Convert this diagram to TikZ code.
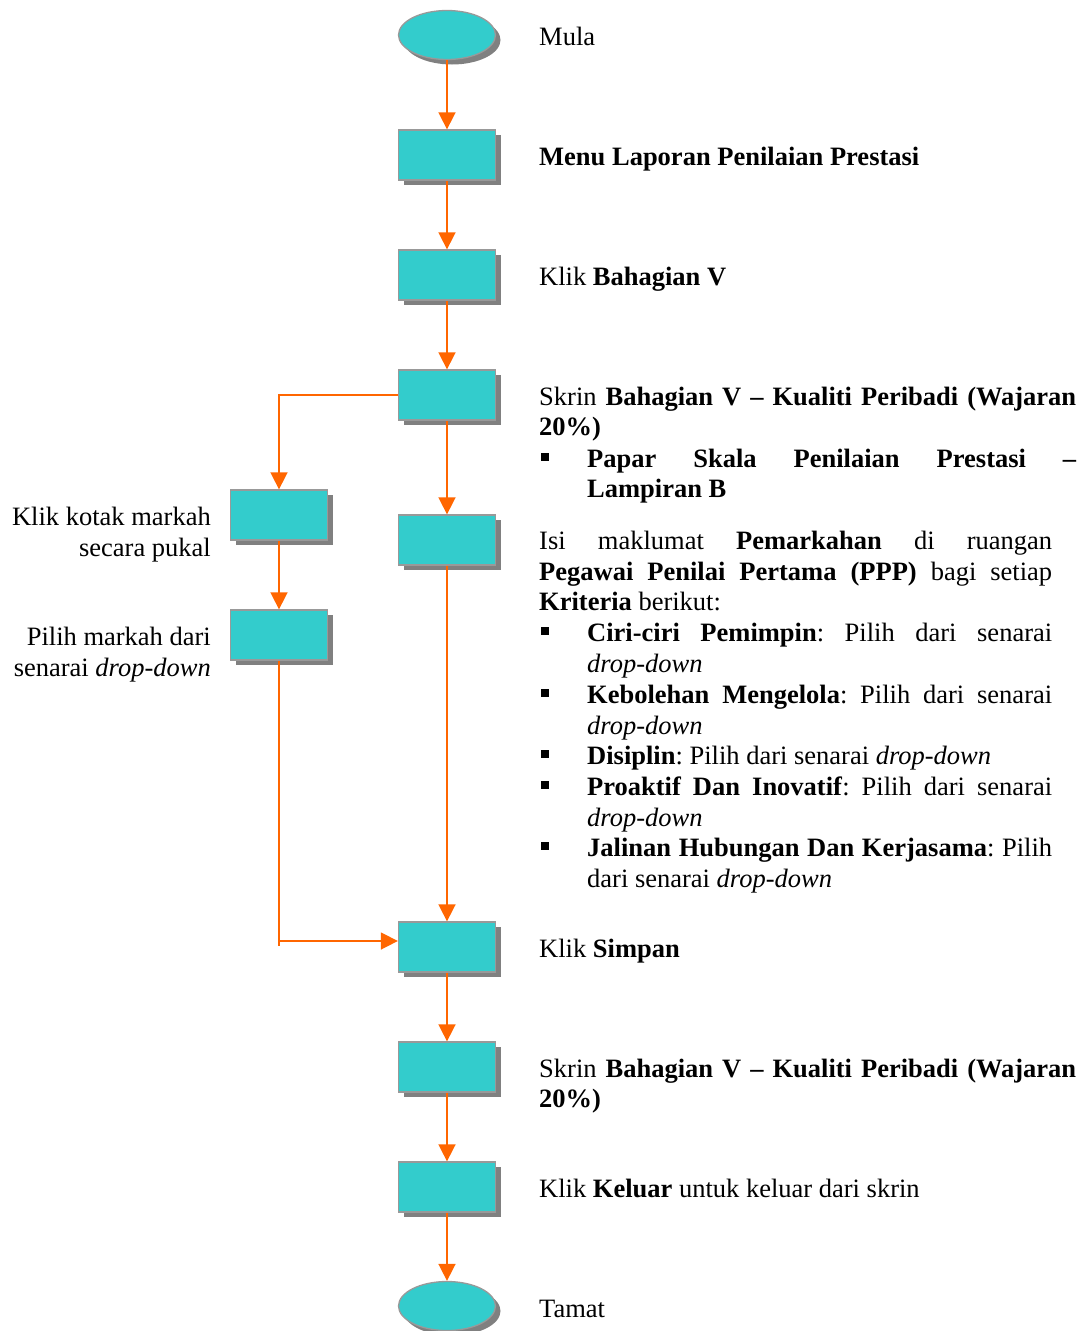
\documentclass[tikz,border=0pt]{standalone}
\usepackage{fontspec}
\setmainfont{Liberation Serif}
\usetikzlibrary{arrows.meta,shadows,shapes.geometric}
\definecolor{teal1}{HTML}{33CCCC}
\definecolor{boxborder}{HTML}{999999}
\definecolor{shadowgray}{HTML}{808080}
\definecolor{orange1}{HTML}{FF6600}
\newcommand{\jl}[2]{\makebox[#1pt][s]{#2}}
\frenchspacing
\begin{document}
\begin{tikzpicture}[x=1pt,y=-1pt,
  shape base/.style={draw=boxborder, line width=1.3pt, fill=teal1, minimum width=97pt, minimum height=50pt, inner sep=0pt,
     drop shadow={shadow xshift=5pt, shadow yshift=-5pt, fill=shadowgray, opacity=1, draw=none}},
  stepbox/.style={shape base, rectangle},
  termbox/.style={shape base, ellipse, minimum height=49pt},
  conn/.style={draw=orange1, line width=1.6pt},
  arr/.style={conn, -{Triangle[length=17pt,width=17pt]}},
  txt/.style={anchor=base west, inner sep=0pt, font=\fontsize{26.5pt}{30.5pt}\selectfont\frenchspacing},
  ltxt/.style={anchor=base east, inner sep=0pt, font=\fontsize{26.5pt}{30.5pt}\selectfont\frenchspacing},
  bul/.style={rectangle, fill=black, inner sep=0pt, minimum size=7.5pt}
]
\useasboundingbox (0,0) rectangle (1089,1331);
% shapes
\node[termbox] (mula) at (447,35) {};
\node[stepbox] (menu) at (447,155) {};
\node[stepbox] (klikb) at (447,275) {};
\node[stepbox] (skrin1) at (447,395) {};
\node[stepbox] (isi) at (447,540) {};
\node[stepbox] (kl1) at (279,515) {};
\node[stepbox] (kl2) at (279,635) {};
\node[stepbox] (simpan) at (447,947) {};
\node[stepbox] (skrin2) at (447,1067) {};
\node[stepbox] (keluar) at (447,1187) {};
\node[termbox] (tamat) at (447,1306) {};
% connectors
\draw[arr] (mula.south) -- (menu.north);
\draw[arr] (menu.south) -- (klikb.north);
\draw[arr] (klikb.south) -- (skrin1.north);
\draw[arr] (skrin1.south) -- (isi.north);
\draw[arr] (skrin1.west) -| (kl1.north);
\draw[arr] (kl1.south) -- (kl2.north);
\coordinate (lend) at (279,946);
\draw[conn] (kl2.south) -- (lend);
\coordinate (lcorner) at (279,941);
\draw[arr] (lcorner) -- (lcorner -| simpan.west);
\draw[arr] (isi.south) -- (simpan.north);
\draw[arr] (simpan.south) -- (skrin2.north);
\draw[arr] (skrin2.south) -- (keluar.north);
\draw[arr] (keluar.south) -- (tamat.north);
% right texts
\node[txt] (t1) at (539,45) {Mula};
\node[txt] (t2) at (539,165) {\textbf{Menu Laporan Penilaian Prestasi}};
\node[txt] (t3) at (539,285) {Klik \textbf{Bahagian V}};
\node[txt] (t4) at (539,405) {\jl{537}{Skrin \textbf{Bahagian V – Kualiti Peribadi (Wajaran}}};
\node[txt] (t5) at (539,435) {\textbf{20\%)}};
\node[bul] (b1) at (545,457) {};
\node[txt] (t6) at (587,467) {\textbf{\jl{489}{Papar Skala Penilaian Prestasi –}}};
\node[txt] (t7) at (587,497) {\textbf{Lampiran B}};
\node[txt] (t8) at (539,549) {\jl{513}{Isi maklumat \textbf{Pemarkahan} di ruangan}};
\node[txt] (t9) at (539,580) {\jl{513}{\textbf{Pegawai Penilai Pertama (PPP)} bagi setiap}};
\node[txt] (t10) at (539,610) {\textbf{Kriteria} berikut:};
\node[bul] (b2) at (545,631) {};
\node[txt] (t11) at (587,641) {\jl{465}{\textbf{Ciri-ciri Pemimpin}: Pilih dari senarai}};
\node[txt] (t12) at (587,672) {\textit{drop-down}};
\node[bul] (b3) at (545,693) {};
\node[txt] (t13) at (587,703) {\jl{465}{\textbf{Kebolehan Mengelola}: Pilih dari senarai}};
\node[txt] (t14) at (587,734) {\textit{drop-down}};
\node[bul] (b4) at (545,754) {};
\node[txt] (t15) at (587,764) {\textbf{Disiplin}: Pilih dari senarai \textit{drop-down}};
\node[bul] (b5) at (545,785) {};
\node[txt] (t16) at (587,795) {\jl{465}{\textbf{Proaktif Dan Inovatif}: Pilih dari senarai}};
\node[txt] (t17) at (587,826) {\textit{drop-down}};
\node[bul] (b6) at (545,846) {};
\node[txt] (t18) at (587,856) {\jl{465}{\textbf{Jalinan Hubungan Dan Kerjasama}: Pilih}};
\node[txt] (t19) at (587,887) {dari senarai \textit{drop-down}};
\node[txt] (t20) at (539,957) {Klik \textbf{Simpan}};
\node[txt] (t21) at (539,1077) {\jl{537}{Skrin \textbf{Bahagian V – Kualiti Peribadi (Wajaran}}};
\node[txt] (t22) at (539,1107) {\textbf{20\%)}};
\node[txt] (t23) at (539,1197) {Klik \textbf{Keluar} untuk keluar dari skrin};
\node[txt] (t24) at (539,1317) {Tamat};
% left texts
\node[ltxt] (l1) at (211,525) {Klik kotak markah};
\node[ltxt] (l2) at (211,556) {secara pukal};
\node[ltxt] (l3) at (211,645) {Pilih markah dari};
\node[ltxt] (l4) at (211,676) {senarai \textit{drop-down}};
\end{tikzpicture}
\end{document}
